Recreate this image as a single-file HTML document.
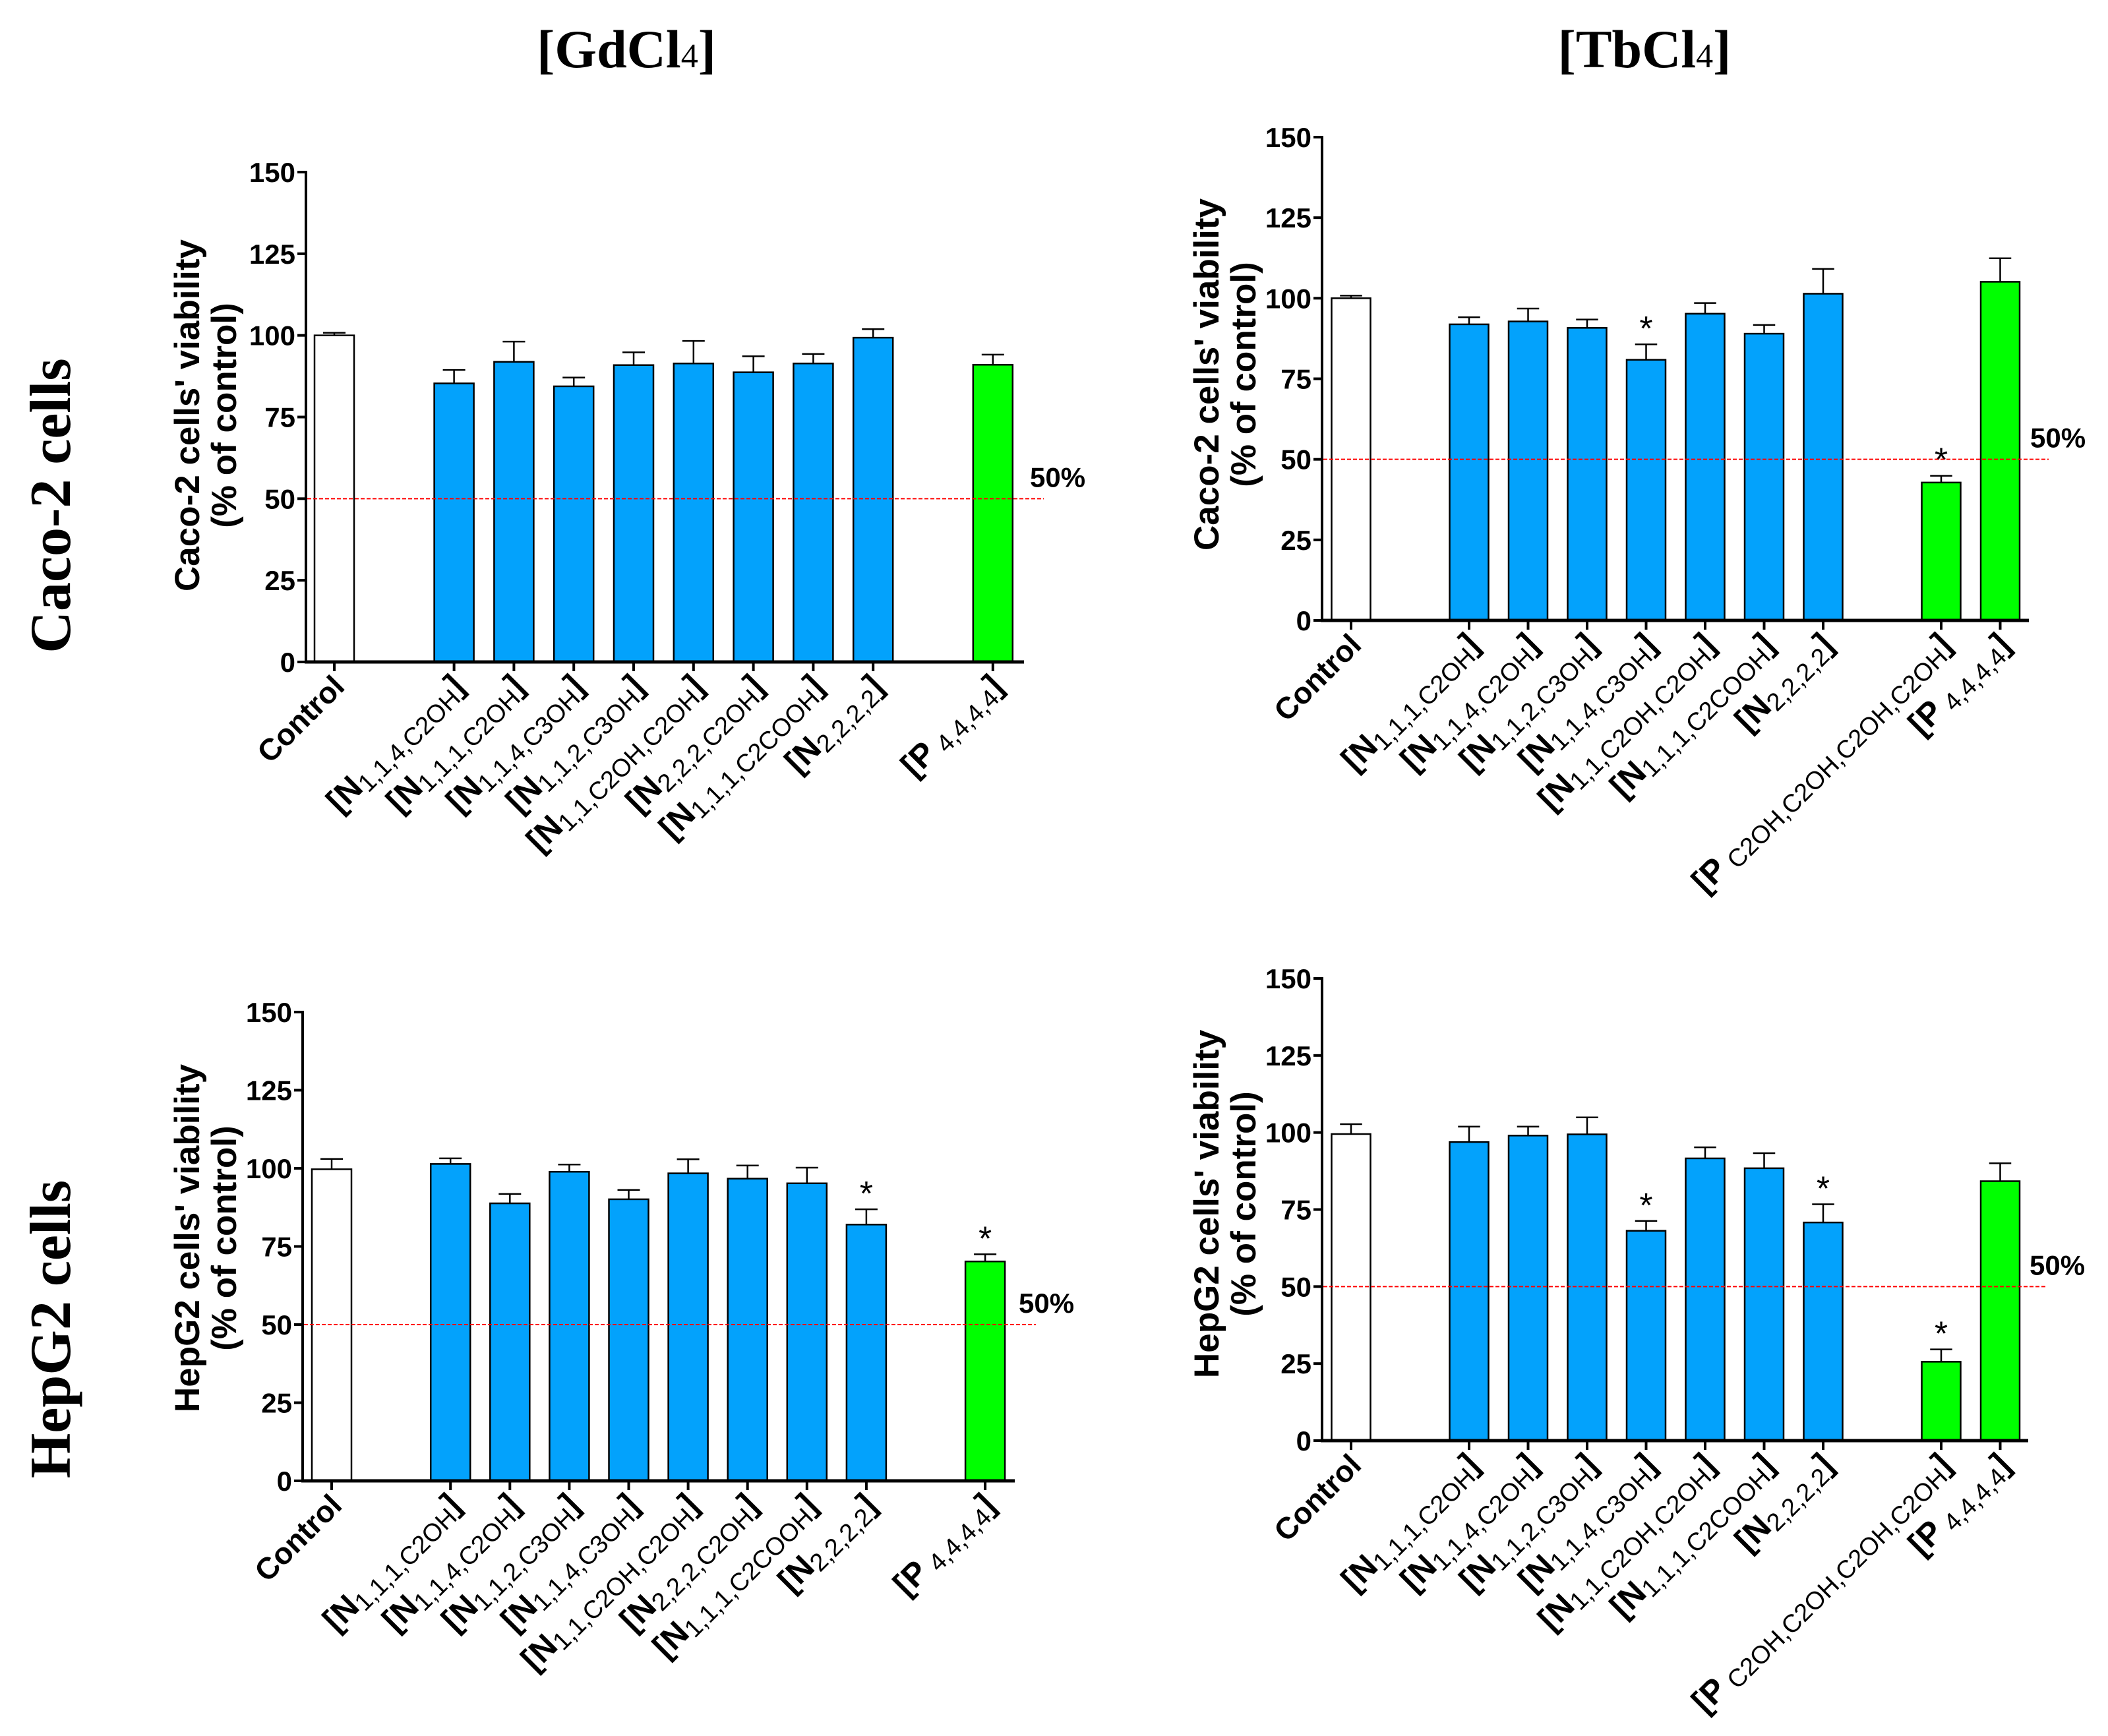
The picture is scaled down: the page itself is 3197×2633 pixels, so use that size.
<!DOCTYPE html>
<html><head><meta charset="utf-8"><style>
html,body{margin:0;padding:0;background:#fff;overflow:hidden;}
svg{display:block;}
.tick{font-family:"Liberation Sans",sans-serif;font-weight:bold;font-size:42px;}
.ttl{font-family:"Liberation Sans",sans-serif;font-weight:bold;font-size:53px;}
.serif{font-family:"Liberation Serif",serif;font-weight:bold;}
</style></head><body>
<svg id="fig" width="3197" height="2633" viewBox="0 0 3197 2633" xmlns="http://www.w3.org/2000/svg">
<text class="serif" x="950" y="102" font-size="82" text-anchor="middle">[GdCl<tspan font-weight="normal" font-size="52">4</tspan>]</text>
<text class="serif" x="2494" y="102" font-size="82" text-anchor="middle">[TbCl<tspan font-weight="normal" font-size="52">4</tspan>]</text>
<text class="serif" transform="translate(106,767) rotate(-90)" font-size="88" text-anchor="middle">Caco-2 cells</text>
<text class="serif" transform="translate(106,2016) rotate(-90)" font-size="88" text-anchor="middle">HepG2 cells</text>
</svg>
<script>
// ---- data ----
const tlCategories = ['Control','N|1,1,4,C2OH','N|1,1,1,C2OH','N|1,1,4,C3OH','N|1,1,2,C3OH','N|1,1,C2OH,C2OH','N|2,2,2,C2OH','N|1,1,1,C2COOH','N|2,2,2,2','P| 4,4,4,4'];
const tlValues = [100,85.3,91.9,84.4,90.9,91.4,88.7,91.4,99.3,91.0];
const tlErrors = [0.8,4.1,6.2,2.7,3.9,6.9,4.9,2.9,2.6,3.1];
const tlSig = [0,0,0,0,0,0,0,0,0,0];

const trCategories = ['Control','N|1,1,1,C2OH','N|1,1,4,C2OH','N|1,1,2,C3OH','N|1,1,4,C3OH','N|1,1,C2OH,C2OH','N|1,1,1,C2COOH','N|2,2,2,2','P| C2OH,C2OH,C2OH,C2OH','P| 4,4,4,4'];
const trValues = [100,91.9,92.8,90.8,80.9,95.2,89.0,101.4,42.8,105.1];
const trErrors = [0.8,2.2,4.0,2.6,4.8,3.3,2.7,7.7,2.1,7.3];
const trSig = [0,0,0,0,1,0,0,0,1,0];

const blCategories = ['Control','N|1,1,1,C2OH','N|1,1,4,C2OH','N|1,1,2,C3OH','N|1,1,4,C3OH','N|1,1,C2OH,C2OH','N|2,2,2,C2OH','N|1,1,1,C2COOH','N|2,2,2,2','P| 4,4,4,4'];
const blValues = [99.7,101.4,88.8,98.9,90.1,98.4,96.7,95.2,82.0,70.2];
const blErrors = [3.3,1.8,3.0,2.3,3.0,4.5,4.2,5.0,4.9,2.3];
const blSig = [0,0,0,0,0,0,0,0,1,1];

const brCategories = ['Control','N|1,1,1,C2OH','N|1,1,4,C2OH','N|1,1,2,C3OH','N|1,1,4,C3OH','N|1,1,C2OH,C2OH','N|1,1,1,C2COOH','N|2,2,2,2','P| C2OH,C2OH,C2OH,C2OH','P| 4,4,4,4'];
const brValues = [99.5,96.9,99.0,99.4,68.1,91.6,88.4,70.8,25.6,84.2];
const brErrors = [3.2,5.0,2.9,5.5,3.2,3.6,4.9,5.9,4.0,5.8];
const brSig = [0,0,0,0,1,0,0,1,1,0];

const yTicks = [0,25,50,75,100,125,150];
const threshold = 50;

const NS = 'http://www.w3.org/2000/svg';
const svg = document.getElementById('fig');
function mk(tag, attrs, parent){const e=document.createElementNS(NS,tag);for(const k in attrs)e.setAttribute(k,attrs[k]);(parent||svg).appendChild(e);return e;}

function panel(id, cfg, cats, vals, errs, sig, ytitle){
  const g = mk('g',{});
  
  
  const y = v => cfg.y0 - (v/150)*(cfg.y0-cfg.y150);
  let slot=0, prev=null; const xs=[];
  cats.forEach((c)=>{const grp=c.charAt(0); if(prev!==null){slot+= (grp!==prev)?2:1;} xs.push(cfg.c0+slot*cfg.step); prev=grp;});
  yTicks.forEach(t=>{
    const tk=mk('line',{x1:cfg.ox-13,x2:cfg.ox,y1:y(t),y2:y(t),stroke:'#000','stroke-width':4},g);
    
    
    const tl=mk('text',{x:cfg.ox-16,y:y(t)+15,'text-anchor':'end','class':'tick'},g);
    tl.textContent=t;
    
    
  });
  cats.forEach((c,i)=>{
    const x=xs[i], top=y(vals[i]), et=y(vals[i]+errs[i]);
    const grp=c.charAt(0);
    const fill = c==='Control'?'#ffffff':(grp==='P'?'#00ff00':'#03a2fc');
    const eb=mk('line',{x1:x,x2:x,y1:top,y2:et,stroke:'#000','stroke-width':2.5},g);
    
    
    const ec=mk('line',{x1:x-cfg.w/4-2,x2:x+cfg.w/4+2,y1:et,y2:et,stroke:'#000','stroke-width':2.5},g);
    
    
    const r=mk('rect',{x:x-cfg.w/2,y:top,width:cfg.w,height:cfg.y0-top,fill:fill,stroke:'#000','stroke-width':2.5},g);
    
    
    if(sig[i]){
      const s=mk('text',{x:x,y:et-6,'text-anchor':'middle','font-family':'Liberation Sans,sans-serif','font-size':52},g);
      s.textContent='*';
      
      
    }
    const tk=mk('line',{x1:x,x2:x,y1:cfg.y0,y2:cfg.y0+14,stroke:'#000','stroke-width':4},g);
    
    
    const lx=x+18, ly=cfg.y0+40;
    const t=mk('text',{transform:`translate(${lx},${ly}) rotate(-45)`,'text-anchor':'end','font-family':'Liberation Sans,sans-serif'},g);
    
    
    if(c==='Control'){
      const a=mk('tspan',{'font-weight':'bold','font-size':46},t); a.textContent='Control';
    } else {
      const parts=c.split('|');
      const a=mk('tspan',{'font-weight':'bold','font-size':50},t); a.textContent='['+parts[0];
      const b=mk('tspan',{'font-size':38,dy:8},t); b.textContent=parts[1];
      const d=mk('tspan',{'font-weight':'bold','font-size':50,dy:-8},t); d.textContent=']';
    }
  });
  const ya=mk('line',{x1:cfg.ox,x2:cfg.ox,y1:cfg.y150-2,y2:cfg.y0+2,stroke:'#000','stroke-width':4},g);
  
  
  const xa=mk('line',{x1:cfg.ox-2,x2:cfg.xEnd,y1:cfg.y0,y2:cfg.y0,stroke:'#000','stroke-width':5},g);
  
  
  const th=mk('line',{x1:cfg.ox+2,x2:cfg.dashEnd,y1:y(threshold),y2:y(threshold),stroke:'#ff0000','stroke-width':2,'stroke-dasharray':'6 3'},g);
  
  
  const tt=mk('text',{x:cfg.lx,y:y(threshold)-18,'class':'tick'},g);
  tt.textContent='50%';
  
  
  const yt=mk('text',{transform:`translate(${cfg.tx},${cfg.ty}) rotate(-90)`,'text-anchor':'middle','class':'ttl'},g);
  
  
  const l1=mk('tspan',{x:0,y:0},yt); l1.textContent=ytitle;
  const l2=mk('tspan',{x:0,y:56},yt); l2.textContent='(% of control)';
}
panel('caco2-gdcl4',{ox:464,y0:1004,y150:261,xEnd:1553,c0:507,step:90.8,w:60,dashEnd:1583,lx:1562,tx:302,ty:630},tlCategories,tlValues,tlErrors,tlSig,"Caco-2 cells'  viability");
panel('caco2-tbcl4',{ox:2005,y0:941,y150:208,xEnd:3077,c0:2049,step:89.5,w:59,dashEnd:3107,lx:3079,tx:1848,ty:568},trCategories,trValues,trErrors,trSig,"Caco-2 cells'  viability");
panel('hepg2-gdcl4',{ox:459,y0:2246,y150:1535,xEnd:1539,c0:503,step:90.1,w:60,dashEnd:1571,lx:1545,tx:302,ty:1878},blCategories,blValues,blErrors,blSig,"HepG2 cells'  viability");
panel('hepg2-tbcl4',{ox:2005,y0:2185,y150:1484,xEnd:3076,c0:2049,step:89.5,w:59,dashEnd:3105,lx:3078,tx:1848,ty:1826},brCategories,brValues,brErrors,brSig,"HepG2 cells'  viability");
</script>
</body></html>
